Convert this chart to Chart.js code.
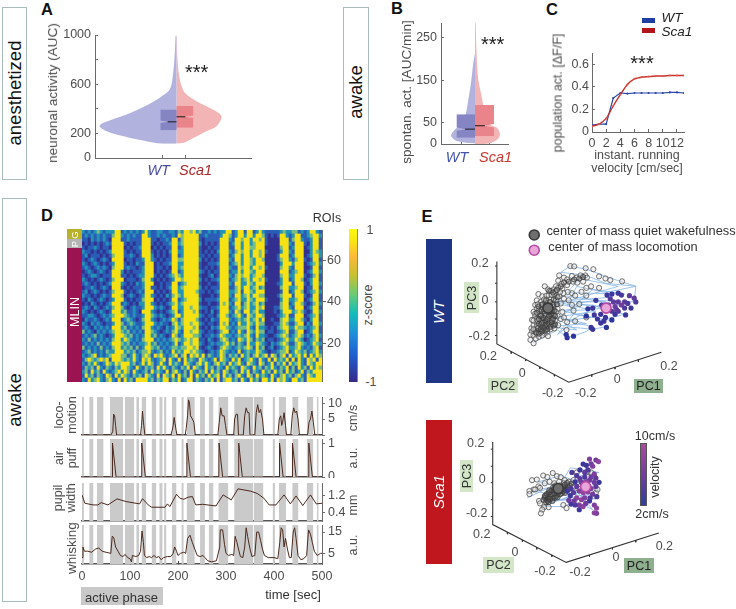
<!DOCTYPE html>
<html><head><meta charset="utf-8">
<style>
html,body{margin:0;padding:0;background:#fff;width:736px;height:609px;overflow:hidden}
#root{position:relative;width:736px;height:609px;font-family:"Liberation Sans",Arial,sans-serif}
canvas{position:absolute;display:block;filter:blur(.35px)}
.t{position:absolute;white-space:pre;text-align:center;line-height:1.02;transform-origin:center}
.b{position:absolute;box-sizing:border-box}
</style>
<script src="https://cdn.jsdelivr.net/npm/chart.js@4"></script>
</head><body><div id="root"></div>
<script>
// ---------- Panel A ----------
const aWtValues  = [116,117,136,171,218,258,286,354,427,490,558,694,857,993];
const aWtDensity = [0,16.7,30,50,70,77,73,50,30,16.7,6.7,3.3,1.7,1];
const aScaValues  = [117,122,163,218,258,340,408,462,530,639,802,993];
const aScaDensity = [0,6.7,16.7,30,40,45,33,20,8.3,3.3,1,0.3];
const aWtBox  = {q1:226,med:294,q3:394,width:16,notch:8};
const aScaBox = {q1:245,med:335,q3:422,width:16.7,notch:8};
const aTicks = [0,200,400,600,800,1000];
const aTickLabels = [0,200,600,1000];
// ---------- Panel B ----------
const bWtValues  = [1,4,9,20,34,49,73,104,144,191,214];
const bWtDensity = [0,11.7,20,24,20,13,9,6.7,4,1.7,0];
const bScaValues  = [0,2,10,22,38,49,81,112,151,206,285];
const bScaDensity = [0,15,22,25,22,13,9,6.7,3.3,1.7,0.7];
const bWtBox  = {q1:15,med:35,q3:70,width:18.3,notch:9};
const bScaBox = {q1:18,med:43,q3:92,width:19,notch:9};
const bTicks = [0,50,150,250];
// ---------- Panel C ----------
const cWtVel = [0,1,2,3,4,5,6,7,8,9,10,11,12,13];
const cWtAct = [.06,.07,.07,.30,.345,.34,.345,.345,.345,.345,.345,.35,.35,.345];
const cScaVel = [0,1,2,3,4,5,6,7,8,9,10,11,12,13];
const cScaAct = [.05,.07,.12,.23,.33,.42,.47,.485,.49,.495,.495,.5,.5,.5];
const cXTicks = [0,2,4,6,8,10,12];
const cYTicks = [0,.2,.4,.6];
// ---------- Panel D heat map: each digit 0..4 is a z-score of -1,-.5,0,.5,1; first row is the top ROI ----------
const heatRows = [
"2121232122 2441212121 2421122112 2132443423 1121212244 1244144124 2111112322 3312124421",
"1212121211 3442121211 4421121211 2143444441 1211112443 1244244244 3101014421 2441123442",
"1102121210 4441121111 4441101121 4413444441 0111114442 1443442443 4100004441 3442112441",
"0101010121 4444101011 4441010112 4423444442 0101014441 2442442344 4100004442 1444102441",
"1011210110 4444010112 4440101011 4412444441 0010114441 1442443344 4000003441 2444012441",
"2110101012 4444101011 4441010102 4422444441 0101024442 1343442443 4100002442 1444002432",
"1201110101 3444112101 4442010101 4412444441 1010114441 2442442443 4000014441 2444012442",
"1012101210 4444011011 2442101011 4433444442 0101014442 1442443244 3000013442 1344101441",
"2101210101 2444101021 1444010112 4422444441 0011124441 2342443244 4000002444 2444012342",
"1210121210 3444121101 2444011010 4423444441 0101014442 1143442443 4100003442 1444001441",
"0121012101 4442010111 2444010101 4412444442 1010114441 2242443244 4000004441 2344012442",
"1012210111 4441101012 2444101012 3432444441 0012014442 1343442344 3000003442 2444101341",
"2101012101 3444011101 3442010101 2443444442 0101124441 2342342443 4100002441 2443012441",
"1210101012 4442101021 2444001011 4412344441 0010014442 1442243244 4000012444 1444102442",
"0112101210 4441010111 2441101012 4423444442 0101114441 1342442342 3000003442 2344011441",
"1201210101 3444101012 1444010101 4422444431 1010124442 2341443244 4000001441 2443012342",
"2110101211 4443012101 2442101021 3432444441 0001014442 1442342443 3000013444 1444101441",
"1021012101 2444101011 3444010101 4412344442 0111124441 2342243244 4100002442 2344012441",
"0102101012 4441210102 2442101012 3423444441 0010014342 1441342342 3000003441 2443101342",
"1210210121 3443101211 2444212101 4422443442 1101124441 2342342243 4000113442 1444012441",
"2101012101 4442311210 4442101012 3412444341 0102014442 1431442342 2000102444 2343101442",
"1122101212 3444321211 2443212101 2442444442 1011024431 2342143244 3000012341 1444012341",
"0211210121 4441232101 3442101212 4313444431 0102114442 1232342342 4001003442 2443102441",
"2102121011 2443123211 2444212110 3423443442 1011014341 2142243243 3000113431 1344021442",
"1210212121 4442312121 3442121021 2432444341 0102124432 1233342142 2101023442 2433212341",
"3121021212 3443231212 1443210121 3421443442 1011013441 2142143243 3011012341 1344012441",
"1212312101 2444323121 2442312101 4312444332 0112124322 1232342142 2100123431 2343121342",
"2131212121 3442432121 3444121212 3432343441 1021013431 2143243132 3011012342 2432012341",
"1212131212 4443231212 2342312121 2412443442 1012122342 3132142243 2102123431 1343212432",
"3121213121 3442323131 2443231212 3323344341 0121013432 1232343142 3012012342 2342121341",
"1231212132 2444232312 3342123121 4232443432 1012124321 2141232243 2101123341 2432312342",
"2123412123 4443312421 3431434212 3413414342 4132124313 2314231342 3414313414 2342414243",
"1343234341 4443232421 4342123414 2141423214 3212414321 4241234214 2141423241 4142143414",
"2132421243 2434442312 4243124214 2321432134 2421342314 2342143214 3124132414 2342143244",
"1323142132 1324432142 1323142421 3213241432 1423132142 3214321423 1324213241 3142314243",
"2314231421 2342431421 2314232141 3421314213 2414231431 2314241321 4231423142 3124132444",
"1423132143 1424321323 1432141432 4142314142 3142341423 1342143142 3214213423 1342143244",
"2142342134 2141423144 4423132441 3241244132 1324141344 2314214231 4424143421 4423144444"];
const heatZ = [-1,-.5,0,.5,1];
const roiTicks = [20,40,60];
// ---------- Panel D traces ----------
const activeStart = [0,15,31,58,89,113,124,145,161,171,187,207,218,246,264,284,317,358,397,410,438,468,489];
const activeEnd   = [4,24,45,86,109,119,134,155,168,176,197,212,235,256,274,305,357,378,402,425,451,482,493];
const locoT = [0,60,64,66,68,70,72,122,124,126,128,131,185,188,190,192,194,196,198,215,217,220,222,224,226,230,233,236,283,286,289,292,296,299,302,316,318,321,324,326,336,339,342,345,348,350,360,363,366,369,372,376,379,408,411,414,416,418,421,424,426,435,438,441,444,447,450,453,470,473,476,479,482,485,500];
const locoV = [0,0,1,6.5,6,3,0,0,3,7.5,4,0,0,1.5,3,5.5,3.5,1.5,0,0,2,6,11,10,6,5,4,0,0,4,8.5,6,6,3,0,0,5,6.5,6.5,0,0,6,8.5,7,7,0,0,7,9.5,7,8,5,0,0,5,6,3,4,7,3,0,0,6,8.5,7,7.5,5,0,0,4,5,7.5,4,0,0];
const puffT = [0,63,63.5,71,124,124.5,132,218,218.5,226,285,285.5,293,326,326.5,334,411,411.5,419,438,438.5,446,472,472.5,480,500];
const puffV = [0,0,1,0,0,1,0,0,1,0,0,1,0,0,1,0,0,1,0,0,1,0,0,1,0,0];
const pupilT = [0,6,23,33,40,54,73,92,120,126,138,145,173,178,183,197,204,212,221,230,237,251,279,294,311,325,351,365,379,390,404,421,434,446,460,476,488,500];
const pupilV = [1.25,.85,.77,.77,.88,.77,1.06,.93,.82,1.07,.77,.66,.66,.82,.69,1.28,1.09,1.04,1.14,1.17,.77,.8,.72,1.25,1.01,1.54,1.43,1.32,1.09,.77,.77,1.25,.82,1.2,.74,1.25,.82,.85];
const whiskT = [0,2,5,12,20,28,35,42,50,60,63,66,70,75,80,85,90,95,100,103,105,112,118,122,125,128,130,135,140,145,150,155,160,165,170,178,185,190,193,197,200,205,212,216,220,225,230,235,240,246,252,256,262,270,280,287,288,293,297,300,305,312,316,319,323,326,330,335,339,342,345,350,354,360,364,368,372,376,380,388,400,408,412,415,418,421,424,428,432,436,440,443,446,450,456,462,468,472,476,480,484,490,497,500];
const whiskV = [3,8,6,6,5.5,7,7.5,6,5.5,5,13,12.5,8,6,4,3.5,4.5,3,2.5,1,4,3.5,4,6,15.5,10,4,3,3.5,3,4,3,3.5,2,3,3.5,3.5,5,8,6,4,5,5.5,5,12,13.5,10,7,4,3.5,4,3,1.5,1,1.5,8,16,16,9,5,4,4.5,4,13,10,7,3.5,3,8,17,13,7,3.5,4,15,15,11,7,4,3,3,2.5,10,17,16,8,12,7,3,3,15,17,12,4,2,2.5,4,16,14,10,6,4,5,5];
const timeTicks = [0,100,200,300,400,500];
// ---------- Panel E (projected position on the drawn 3-D axes) ----------
const wtQuiet = [[450,175],[462,176],[498,182],[522,185],[415,205],[430,212],[440,218],[455,207],[470,212],[482,205],[497,205],[502,212],[540,208],[560,215],[575,220],[612,224],[472,228],[490,225],[412,222],[422,232],[405,240],[398,250],[412,245],[425,248],[440,236],[458,225],[500,245],[515,240],[540,245],[500,270],[485,258],[455,262],[465,270],[442,258],[428,262],[370,240],[380,250],[390,255],[400,265],[415,272],[430,280],[445,285],[478,297],[460,318],[500,340],[465,352],[440,355],[438,380],[455,300],[350,265],[362,272],[375,270],[390,280],[405,285],[420,295],[345,285],[358,290],[372,292],[385,300],[398,305],[410,312],[425,322],[335,322],[345,310],[352,318],[365,308],[330,348],[340,335],[350,340],[362,330],[372,335],[385,328],[395,340],[410,335],[420,345],[430,340],[328,375],[335,365],[345,358],[355,352],[368,350],[378,355],[390,362],[402,350],[412,365],[330,385],[340,380],[350,372],[362,368],[375,372],[388,378],[400,375],[325,395],[335,398],[345,392],[358,388],[370,392],[380,400],[325,412],[335,423],[342,408],[352,402],[362,398],[335,350],[345,345],[360,345],[375,345],[385,350],[395,325],[405,322],[380,318],[360,322],[350,330],[340,300],[375,300],[392,312],[360,300],[348,298],[368,282],[382,268],[392,268],[404,256],[418,258],[370,358],[358,362],[345,368],[335,378],[352,382],[365,380],[378,385],[340,328],[355,335],[370,325],[382,338],[398,332],[360,355],[348,350],[378,365],[392,350]];
const wtDense = [[345,325],[352,345],[358,335],[365,342],[372,352],[378,345],[384,335],[390,330],[396,345],[402,335],[360,315],[368,320],[376,312],[384,322],[392,320],[400,318],[352,360],[362,358],[372,364],[382,360],[392,356],[402,362],[348,375],[358,378],[368,374],[378,378],[388,370],[398,366],[342,388],[352,392],[362,385],[372,382],[350,305],[362,298],[372,305],[384,310],[396,300],[408,298],[374,285],[386,290],[398,282],[410,275],[384,255],[396,260],[408,252],[420,240],[430,228],[445,225],[462,218],[478,215],[490,210]];
const wtLoco = [[440,405,2],[460,400,2],[437,395,2],[515,372,3],[520,378,3],[563,372,2],[545,358,3],[555,352,3],[535,345,3],[580,348,2],[525,332,3],[500,335,2],[505,312,2],[520,310,3],[530,285,3],[548,300,4],[580,320,4],[590,330,3],[600,320,4],[623,332,3],[620,310,4],[640,310,3],[655,290,4],[650,278,5],[635,270,5],[610,268,4],[600,262,3],[580,265,3],[565,268,3],[575,280,4],[585,290,5],[600,290,5],[620,290,5],[630,295,4],[610,300,6],[590,305,6],[570,300,5],[595,315,5],[545,330,3],[560,340,3]];
const wtTraj = [[335,420],[410,380],[440,405],[460,400],[500,385],[520,370],[440,350],[515,340],[430,320],[500,315],[560,310],[470,295],[530,285],[650,290],[655,240],[610,225],[580,215],[500,185],[450,175],[420,195],[500,205],[560,230],[655,240],[560,260],[470,240],[440,300],[520,300],[620,330],[540,350],[560,370],[520,378],[440,370],[410,395],[460,330],[580,350],[600,300],[500,280],[430,270],[400,300],[600,240],[480,215],[440,260],[620,265],[520,250],[420,340],[500,360],[380,370],[470,380],[400,340],[530,320],[410,290],[560,290],[450,350],[360,330],[470,310],[390,290],[580,275]];
const wtCentres = [[380,310],[562,310],[337,75],[337,124]];
const scaQuiet = [[330,205],[345,203],[365,190],[378,195],[395,182],[408,192],[420,195],[432,205],[350,225],[335,235],[322,240],[322,250],[340,235],[355,230],[370,215],[385,210],[400,215],[415,210],[430,215],[445,210],[460,205],[470,215],[352,272],[355,280],[368,292],[382,292],[362,300],[358,312],[428,285],[438,295],[372,262],[378,265],[385,268],[392,262],[385,255],[378,252],[392,250],[400,255],[405,245],[412,238],[420,232],[430,225],[440,220],[375,258],[382,248],[390,240],[398,235],[408,228],[418,222],[430,238],[445,232],[462,225],[475,232],[490,215],[505,195],[530,245],[535,235],[525,195],[470,180],[515,180],[505,175],[395,245],[388,260],[402,240],[410,250],[380,262],[372,255],[395,255],[415,228],[425,235]];
const scaDense = [[370,262],[376,268],[382,258],[388,252],[394,264],[400,248],[406,256],[412,246],[418,240],[424,246],[430,232],[436,238],[442,226],[448,222],[454,216],[376,250],[384,244],[392,238],[400,232],[408,240],[416,234],[424,226],[432,220],[440,214],[370,256],[378,272],[386,266],[394,272],[402,262],[410,260],[418,250],[426,240],[434,246],[442,236],[384,238],[396,228],[404,222],[366,268],[374,276],[382,276]];
const scaLoco = [[510,137,7],[530,140,6],[538,145,8],[515,152,6],[490,153,3],[500,157,3],[520,160,7],[505,172,4],[480,172,3],[495,180,5],[525,185,7],[455,180,4],[540,212,3],[525,212,6],[510,205,6],[495,195,4],[480,200,5],[470,190,4],[465,210,3],[490,225,9],[505,222,9],[515,232,7],[530,225,5],[478,240,7],[490,245,8],[505,243,8],[520,250,6],[533,258,4],[460,245,5],[450,255,3],[470,262,8],[485,268,8],[495,262,7],[510,272,3],[525,285,7],[532,295,8],[525,310,8],[532,312,7],[478,300,3],[490,290,8],[478,285,7],[465,285,4],[452,282,3],[445,270,6],[462,272,6],[498,280,6],[512,262,4],[440,240,3],[452,232,4],[470,225,5],[485,212,6],[500,210,8],[515,195,6],[530,198,5]];
const scaTraj = [[315,262],[385,228],[330,240],[400,250],[450,165],[540,180],[460,195],[540,210],[420,270],[500,250],[430,290],[360,290],[440,260],[520,300],[470,240],[350,210],[420,190],[540,235],[450,280],[500,200],[410,240],[530,265],[400,270],[480,225]];
const scaCentres = [[412,232],[498,226]];
const wtAxes = [[220,160],[220,425],[445,548],[735,452]];
const wtAxisTicks = [[220,175],[214,175],[null,null],[220,230],[214,230],[null,null],[220,290],[214,290],[null,null],[220,345],[214,345],[null,null],[220,398],[214,398],[null,null],[265,450],[265,456],[null,null],[310,474],[310,480],[null,null],[355,499],[355,505],[null,null],[400,523],[400,529],[null,null],[517,524],[517,530],[null,null],[590,500],[590,506],[null,null],[663,476],[663,482]];
const scaAxes = [[207,82],[207,348],[437,470],[727,375]];
const scaAxisTicks = [[207,105],[201,105],[null,null],[207,160],[201,160],[null,null],[207,213],[201,213],[null,null],[207,268],[201,268],[null,null],[207,322],[201,322],[null,null],[253,373],[253,379],[null,null],[300,398],[300,404],[null,null],[345,422],[345,428],[null,null],[392,446],[392,452],[null,null],[510,446],[510,452],[null,null],[582,422],[582,428],[null,null],[655,399],[655,405]];

// ---------- helpers ----------
const root = document.getElementById('root');
const FONT = '"Liberation Sans", Arial, sans-serif';
Chart.defaults.font.family = FONT;
Chart.defaults.animation = false;
const TXT = '#4d4d4d', AX = '#6a6a6a';

function T(s,cx,cy,o={}){
  const d=document.createElement('div');d.className='t';d.textContent=s;
  d.style.left=cx+'px';d.style.top=cy+'px';
  d.style.fontSize=(o.size||12.5)+'px';d.style.color=o.color||TXT;
  if(o.italic)d.style.fontStyle='italic';if(o.bold)d.style.fontWeight='bold';
  if(o.ls)d.style.letterSpacing=o.ls+'px';
  d.style.transform='translate(-50%,-50%)'+(o.rot?` rotate(${o.rot}deg)`:'');
  root.appendChild(d);return d;
}
function B(x,y,w,h,st){
  const d=document.createElement('div');d.className='b';
  d.style.left=x+'px';d.style.top=y+'px';d.style.width=w+'px';d.style.height=h+'px';
  Object.assign(d.style,st||{});root.appendChild(d);return d;
}
function mk(r,m,cfg){
  const c=document.createElement('canvas');
  const W=r.w+m.l+m.r,H=r.h+m.t+m.b;
  c.width=W;c.height=H;c.style.left=(r.x-m.l)+'px';c.style.top=(r.y-m.t)+'px';
  c.style.width=W+'px';c.style.height=H+'px';root.appendChild(c);
  const sides={};
  const sc=cfg.options.scales;
  for(const id in sc){
    const s=sc[id];
    if(s.display===false)continue;
    const pos=s.position||(id[0]==='x'?'bottom':'left');
    sides[pos]=true;
    s.afterFit=a=>{
      if(pos==='bottom')a.height=m.b; else if(pos==='left')a.width=m.l; else if(pos==='right')a.width=m.r;
      a.paddingTop=a.paddingBottom=a.paddingLeft=a.paddingRight=0;
    };
  }
  cfg.options.responsive=false;cfg.options.maintainAspectRatio=false;cfg.options.animation=false;
  cfg.options.layout={padding:{left:sides.left?0:m.l,right:sides.right?0:m.r,top:m.t,bottom:sides.bottom?0:m.b}};
  cfg.options.plugins={legend:{display:false},tooltip:{enabled:false}};
  cfg.options.events=[];
  return new Chart(c,cfg);
}
function lin(min,max,vals,lab,o={}){
  return Object.assign({type:'linear',min,max,
    afterBuildTicks:s=>{s.ticks=vals.map(v=>({value:v}));},
    ticks:{autoSkip:false,maxRotation:0,minRotation:0,padding:o.pad===undefined?3:o.pad,color:o.color||TXT,font:{size:o.size||12.5,family:FONT},
      callback:v=>lab?lab(v):''+v},
    grid:{drawOnChartArea:false,drawTicks:true,tickLength:o.tl===undefined?-3:o.tl,color:o.tc||AX,lineWidth:1},
    border:{display:true,color:o.bc||AX,width:o.bw||1}
  },o.extra||{});
}
const zip=(a,b,f=1)=>a.map((v,i)=>({x:v*f,y:b[i]}));
const zipT=(a,b)=>a.map((v,i)=>({x:v,y:b[i]}));

function boxPts(b,sign,gap){
  return [{x:sign*b.width,y:b.q1},{x:sign*b.width,y:b.med-gap},{x:sign*b.notch,y:b.med},{x:sign*b.width,y:b.med+gap},{x:sign*b.width,y:b.q3}];
}
function violin(r,xmin,xmax,ymax,yTicks,yLab,xTicks,data){
  const area=(d,c,t)=>({data:d,fill:{value:0},backgroundColor:c,borderWidth:0,pointRadius:0,tension:t,borderColor:'transparent'});
  const med=(x,y)=>({data:[{x:0,y},{x,y}],borderColor:'#1a1a1a',borderWidth:1,pointRadius:0,fill:false});
  mk(r,{l:45,r:8,t:8,b:3},{type:'line',data:{datasets:[
    med(-data.wb.notch*1.1,data.wb.med),med(data.sb.notch*1.1,data.sb.med),
    area(boxPts(data.wb,-1,data.gap),'#8585c4',0),area(boxPts(data.sb,1,data.gap),'#e8848a',0),
    area(zip(data.wd,data.wv,-1),'#b2b2de',.3),area(zip(data.sd,data.sv,1),'#f3b4b6',.3)
  ]},options:{indexAxis:'y',scales:{
    x:lin(xmin,xmax,xTicks,()=>'',{extra:{ticks:{display:false},grid:{drawOnChartArea:false,tickLength:-3,color:AX}}}),
    y:lin(0,ymax,yTicks,yLab,{pad:7})
  }}});
}

// ---------- layout boxes and panel captions ----------
const boxBorder={border:'1px solid #a9bcbc',background:'#fff'};
B(2,7,25,173,boxBorder);T('anesthetized',14.5,93,{size:18.5,color:'#111',rot:-90});
B(343,7,26,173,boxBorder);T('awake',356,92,{size:18.5,color:'#111',rot:-90});
B(2,198,25,404,boxBorder);T('awake',14.5,400,{size:18.5,color:'#111',rot:-90});
[['A',47,9],['B',397,8],['C',552,9],['D',47,215],['E',427,216]].forEach(a=>T(a[0],a[1],a[2],{size:16.5,bold:true,color:'#111'}));

// ---------- A ----------
violin({x:95,y:35,w:156,h:123},-81.5,74.5,1000,aTicks,v=>aTickLabels.includes(v)?''+v:'',[-14.3,8.5],
  {wd:aWtDensity,wv:aWtValues,sd:aScaDensity,sv:aScaValues,wb:aWtBox,sb:aScaBox,gap:10});
T('neuronal activity (AUC)',52.5,93,{rot:-90,size:13.6});
T('WT',158.7,170,{italic:true,size:14.5,color:'#4a4ea3'});
T('Sca1',195.5,170,{italic:true,size:14.5,color:'#a82a2e'});
T('***',196.7,72,{size:20,color:'#222'});

// ---------- B ----------
violin({x:441,y:23,w:67,h:121},-34,33,285,bTicks,null,[-14,14],
  {wd:bWtDensity,wv:bWtValues,sd:bScaDensity,sv:bScaValues,wb:bWtBox,sb:bScaBox,gap:4});
T('spontan. act. [AUC/min]',406.5,91.5,{rot:-90,size:13.6});
T('WT',457,157,{italic:true,size:14.5,color:'#4456ab'});
T('Sca1',495.5,157,{italic:true,size:14.5,color:'#c8392f'});
T('***',492.7,44,{size:20,color:'#222'});

// ---------- C ----------
mk({x:592,y:53,w:92,h:79},{l:36,r:8,t:8,b:22},{type:'line',data:{datasets:[
  {data:zipT(cScaVel,cScaAct),borderColor:'#c8342c',borderWidth:1.4,pointRadius:1.1,pointBackgroundColor:'#e05a50',pointBorderWidth:0,tension:.25},
  {data:zipT(cWtVel,cWtAct),borderColor:'#2b45a8',borderWidth:1.2,pointRadius:1.1,pointBackgroundColor:'#2b45a8',pointBorderWidth:0,tension:0}
]},options:{scales:{
  x:lin(0,13,cXTicks,null,{pad:7,tl:-3}),
  y:lin(0,.699,cYTicks,v=>v===0?'0':v.toFixed(1),{pad:6,size:12.5})
}}});
T('population act. [ΔF/F]',558,93,{rot:-90,size:12.5});
T('instant. running\nvelocity [cm/sec]',637,162,{size:12.5});
T('***',642,63,{size:20,color:'#222'});
B(642,17.5,13,5,{background:'#1c3ea0'});B(642,28,13,5,{background:'#b2141a'});
T('WT',672,18,{italic:true,size:13.5,color:'#222'});T('Sca1',677,32,{italic:true,size:13.5,color:'#222'});

// ---------- D heat map ----------
const heatColours=['#33308f','#2a5db6','#2393b6','#79bd84','#f6e214'];
const heatGrid=heatRows.map(r=>r.replace(/ /g,'').split('').map(c=>heatZ[+c]));
const heatCols=heatGrid[0].map((_,i)=>i);
mk({x:82,y:230,w:240,h:152},{l:0,r:24,t:8,b:0},{type:'bar',data:{labels:heatCols,
  datasets:heatGrid.slice().reverse().map(row=>({data:row.map(()=>1),
    backgroundColor:row.map(z=>heatColours[heatZ.indexOf(z)]),borderWidth:0,barPercentage:1,categoryPercentage:1,stack:'s'}))},
  options:{scales:{
    x:{type:'category',stacked:true,display:false},
    y:{type:'linear',stacked:true,min:0,max:38,display:false},
    roi:lin(1.5,74.5,roiTicks,null,{tl:4,pad:1,extra:{position:'right'}})
  }}});
T('ROIs',327,218,{size:12.5,color:'#333'});
B(67,229,15,10,{background:'#b8b12c'});B(67,239,15,9,{background:'#b4b4b4'});B(67,248,15,134,{background:'#9c1352'});
T('G',74.5,234.5,{size:9.5,color:'#fff',rot:-90});T('P',74.5,243.5,{size:9.5,color:'#fff',rot:-90});
T('MLIN',75,312,{size:12.5,color:'#fff',rot:-90});
B(349,229,9,153,{background:'linear-gradient(to top,#352a87 0%,#1f5fd0 18%,#1f8fd8 32%,#12bdb9 45%,#6fcb70 58%,#c9c02f 70%,#fcb93a 82%,#f9e514 92%,#f9fb0e 100%)',borderRight:'1px solid #8a8a8a'});
T('1',370,230,{size:12.5});T('-1',371,382,{size:12.5});T('z-score',368,305,{rot:-90,size:12.5});

// ---------- D traces ----------
const bandPts=ymax=>activeStart.flatMap((s,i)=>[{x:s,y:ymax},{x:activeEnd[i],y:ymax},{x:activeEnd[i],y:null}]);
function trace(r,tx,ty,ymin,ymax,yt,yl,bottom){
  const xs=bottom
    ? lin(0,500,timeTicks,null,{tl:-3,pad:8,bc:'#555',bw:1.5,tc:'#444'})
    : {type:'linear',min:0,max:500,ticks:{display:false},grid:{display:false},border:{display:true,color:'#555',width:1.5}};
  mk(r,{l:8,r:24,t:8,b:bottom?22:1},{type:'line',data:{datasets:[
    {data:zipT(tx,ty),borderColor:'#4b2a1d',borderWidth:1,pointRadius:0,fill:false,tension:0},
    {data:bandPts(ymax),borderWidth:0,pointRadius:0,backgroundColor:'#cacaca',fill:{value:ymin},spanGaps:false}
  ]},options:{scales:{
    x:xs,
    y:lin(ymin,ymax,yt,yl,{tl:3,pad:3,extra:{position:'right'}})
  }}});
}
trace({x:82,y:397,w:240,h:38},locoT,locoV,0,11.9,[0,5,10],v=>v===0?'':''+v);
trace({x:82,y:439,w:240,h:38},puffT,puffV,0,1.12,[0,1],null);
trace({x:82,y:483,w:240,h:38},pupilT,pupilV,0,1.82,[.4,1.2],v=>v.toFixed(1));
trace({x:82,y:525,w:240,h:39},whiskT,whiskV,0,18.3,[5,15],null,true);
T('loco-\nmotion',66,415,{rot:-90,size:12.5});T('air\npuff',66,458,{rot:-90,size:12.5});
T('pupil\nwidth',65,498,{rot:-90,size:12.5});T('whisking',72,548,{rot:-90,size:13.5});
T('cm/s',353,418,{rot:-90});T('a.u.',353,458,{rot:-90});T('mm',353,505,{rot:-90});T('a.u.',353,545,{rot:-90});
B(81,587,82,18,{background:'#c9c9c9'});T('active phase',121.5,597.5,{size:13,color:'#333'});
T('time [sec]',293,595,{size:13,color:'#333'});

// ---------- E ----------
const lerpHex=(a,b,t)=>'rgb('+a.map((v,i)=>Math.round(v+(b[i]-v)*t)).join(',')+')';
const velColour=v=>lerpHex([45,52,155],[176,70,160],(v-2)/8);
function pca(r,ymaxZ,quiet,dense,loco,traj,centres,axes,ticks){
  const P=a=>a.map(p=>({x:p[0],y:p[1]}));
  const cBg=centres.map((_,i)=>i%2?'#e8a6d8':'#6e6e6e'),cBd=centres.map((_,i)=>i%2?'#b84aa8':'#3a3a3a');
  mk(r,{l:0,r:0,t:0,b:0},{type:'scatter',data:{datasets:[
    {data:P(centres),pointRadius:5,pointBackgroundColor:cBg,pointBorderColor:cBd,pointBorderWidth:1.6,showLine:false},
    {data:P(loco),pointRadius:2.6,pointBackgroundColor:loco.map(p=>velColour(p[2])),pointBorderWidth:0,showLine:false},
    {data:P(dense),pointRadius:2.6,pointBackgroundColor:'rgba(90,90,90,.35)',pointBorderColor:'#3a3a3a',pointBorderWidth:.8,showLine:false},
    {data:P(quiet),pointRadius:2.6,pointBackgroundColor:'rgba(225,225,225,.45)',pointBorderColor:'#484848',pointBorderWidth:.75,showLine:false},
    {data:P(traj),showLine:true,pointRadius:0,borderColor:'#84b4e4',borderWidth:.8},
    {data:P(axes),showLine:true,pointRadius:0,borderColor:'#333',borderWidth:1.1},
    {data:P(ticks),showLine:true,pointRadius:0,borderColor:'#333',borderWidth:1,spanGaps:false}
  ]},options:{scales:{
    x:{type:'linear',min:0,max:r.w*3,display:false},
    y:{type:'linear',min:0,max:ymaxZ,reverse:true,display:false}
  }}});
}
pca({x:420,y:205,w:316,h:200},600,wtQuiet,wtDense,wtLoco,wtTraj,wtCentres,wtAxes,wtAxisTicks);
pca({x:420,y:410,w:316,h:190},570,scaQuiet,scaDense,scaLoco,scaTraj,scaCentres,scaAxes,scaAxisTicks);
T('center of mass quiet wakefulness',641,230.5,{size:12.8,color:'#333'});
T('center of mass locomotion',623,246.5,{size:12.8,color:'#333'});
B(426,239,26,144,{background:'#1f3585'});T('WT',439,312,{italic:true,size:15,color:'#fff',rot:-90});
B(426,420,26,144,{background:'#c0171f'});T('Sca1',439,492,{italic:true,size:15,color:'#fff',rot:-90});
const z5=(x,y)=>[420+x/3,205+y/3],z6=(x,y)=>[420+x/3,410+y/3];
[['0.2',180,175],['0',195,285],['-0.2',178,393],['0.2',205,452],['0',307,505],['-0.2',398,563],['-0.2',497,565],['0',592,522],['0.2',747,482]].forEach(a=>{const p=z5(a[1],a[2]);T(a[0],p[0],p[1],{size:12.5});});
[['0.2',167,98],['0',187,207],['-0.2',170,310],['0.2',185,373],['0',285,425],['-0.2',375,483],['-0.2',480,485],['0',588,442],['0.2',733,407]].forEach(a=>{const p=z6(a[1],a[2]);T(a[0],p[0],p[1],{size:12.5});});
B(464,282,15,31,{background:'#d3e6c8'});T('PC3',471.5,297.5,{rot:-90,size:12.5,color:'#333'});
B(488,378,30,15,{background:'#d3e6c8'});T('PC2',503,385.5,{size:12.5,color:'#333'});
B(634,379,29,14,{background:'#8fb08f'});T('PC1',648.5,386,{size:12.5,color:'#222'});
B(460,460,13,32,{background:'#d3e6c8'});T('PC3',466.5,476,{rot:-90,size:12.5,color:'#333'});
B(483,557,31,16,{background:'#d3e6c8'});T('PC2',498.5,565,{size:12.5,color:'#333'});
B(624,558,30,15,{background:'#8fb08f'});T('PC1',639,565.5,{size:12.5,color:'#222'});
B(640,442.5,7,63,{background:'linear-gradient(to bottom,#a84a9e,#7a3d9e 45%,#2f3f9e)',border:'1px solid #555'});
T('10cm/s',655,436,{size:12.5,color:'#333'});T('2cm/s',652,514,{size:12.5,color:'#333'});T('velocity',655,477,{rot:-90,size:12.5,color:'#333'});
</script></body></html>
